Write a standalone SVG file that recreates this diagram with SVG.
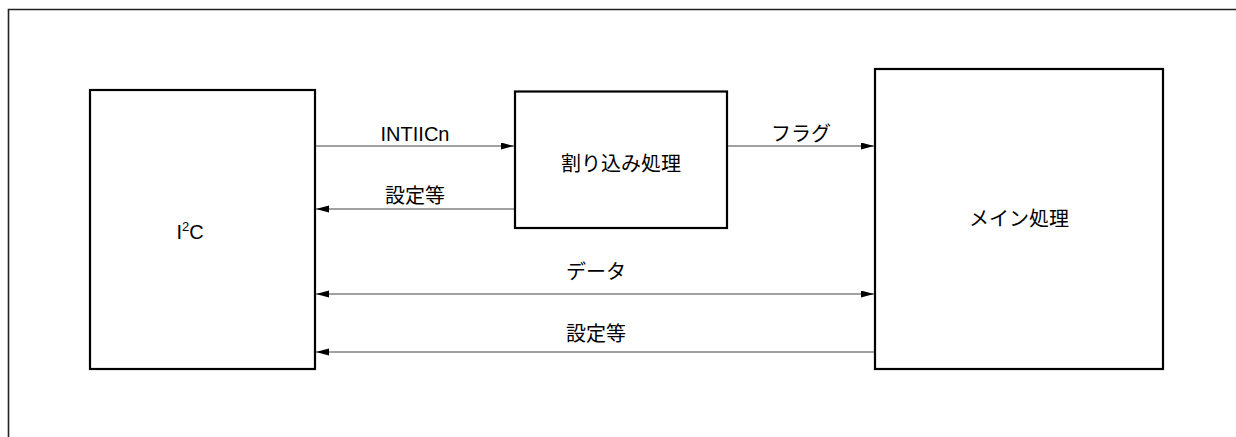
<svg xmlns="http://www.w3.org/2000/svg" width="1236" height="437" viewBox="0 0 1236 437">
<style>
.box{fill:#fff;stroke:#000;stroke-width:2.2}
.frame{fill:none;stroke:#222;stroke-width:1.6}
.ln{fill:none;stroke:#444;stroke-width:1.2}
.t{font-family:"Liberation Sans","Noto Sans CJK JP",Arial,sans-serif;font-size:20px;fill:#000;text-anchor:middle}
.j{font-family:"Noto Sans CJK JP","Liberation Sans",sans-serif;font-size:20px;fill:#000;text-anchor:middle}
</style>
<defs>
<marker id="ah" markerUnits="userSpaceOnUse" markerWidth="14" markerHeight="8" refX="13" refY="3.5" orient="auto-start-reverse">
<path d="M0,0 L13,3.5 L0,7 z" fill="#000"/>
</marker>
</defs>
<rect width="1236" height="437" fill="#fff"/>
<path class="frame" d="M8.5,437 V9.5 H1236"/>
<g id="i2c">
<rect class="box" x="90" y="90" width="225" height="279"/>
<text class="t" x="190" y="239">I<tspan font-size="13" dy="-8">2</tspan><tspan dy="8">C</tspan></text>
</g>
<g id="interrupt">
<rect class="box" x="515" y="91.5" width="212" height="136.5"/>
<text class="j" x="621" y="171">割り込み処理</text>
</g>
<g id="main">
<rect class="box" x="875" y="69" width="288" height="300"/>
<text class="j" x="1019" y="226">メイン処理</text>
</g>
<g id="connectors">
<line class="ln" x1="316" y1="146" x2="514" y2="146" marker-end="url(#ah)"/>
<text class="t" x="415" y="141">INTIICn</text>
<line class="ln" x1="514" y1="209" x2="316" y2="209" marker-end="url(#ah)"/>
<text class="j" x="415" y="203">設定等</text>
<line class="ln" x1="728" y1="146" x2="874" y2="146" marker-end="url(#ah)"/>
<text class="j" x="801" y="141">フラグ</text>
<line class="ln" x1="316" y1="294" x2="874" y2="294" marker-start="url(#ah)" marker-end="url(#ah)"/>
<text class="j" x="596" y="279">データ</text>
<line class="ln" x1="874" y1="352" x2="316" y2="352" marker-end="url(#ah)"/>
<text class="j" x="596" y="341">設定等</text>
</g>
</svg>
